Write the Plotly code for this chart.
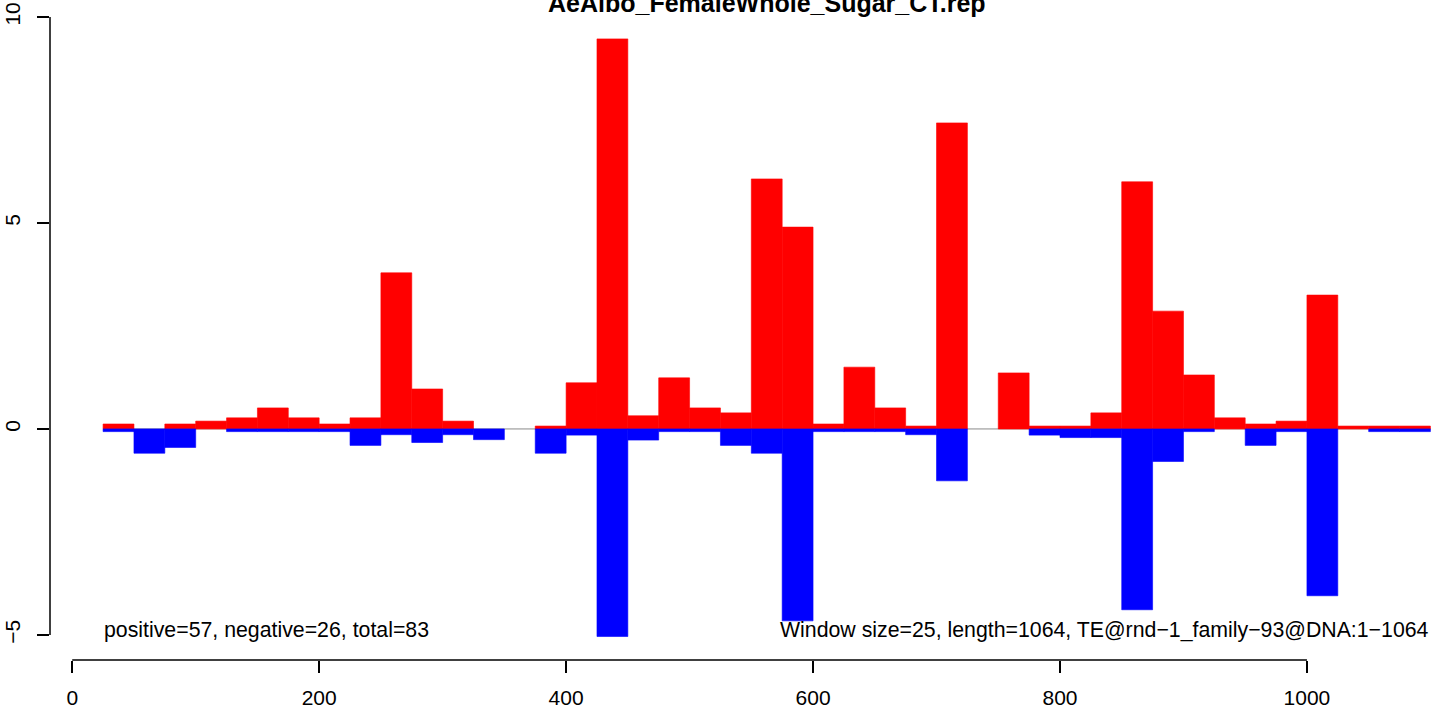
import plotly.graph_objects as go

# ---- data ----
window_start = [25, 50, 75, 100, 125, 150, 175, 200, 225, 250, 275, 300, 325, 350,
                375, 400, 425, 450, 475, 500, 525, 550, 575, 600, 625, 650, 675, 700,
                725, 750, 775, 800, 825, 850, 875, 900, 925, 950, 975, 1000, 1025, 1050, 1075]
window_size = 25
positive_vals = [0.12, 0, 0.12, 0.19, 0.27, 0.51, 0.27, 0.12, 0.27, 3.79, 0.97, 0.19, 0, 0,
                 0.07, 1.12, 9.47, 0.32, 1.24, 0.51, 0.39, 6.07, 4.90, 0.12, 1.50, 0.51, 0.07, 7.43,
                 0, 1.36, 0.07, 0.07, 0.39, 6.00, 2.86, 1.31, 0.27, 0.12, 0.19, 3.25, 0.07, 0.07, 0.07]
negative_vals = [-0.065, -0.59, -0.45, 0, -0.065, -0.065, -0.065, -0.065, -0.40, -0.14, -0.33, -0.14, -0.26, 0,
                 -0.59, -0.15, -5.04, -0.27, -0.065, -0.065, -0.40, -0.59, -4.66, -0.065, -0.065, -0.065, -0.14, -1.26,
                 0, 0, -0.15, -0.21, -0.21, -4.39, -0.79, -0.065, 0, -0.40, -0.065, -4.05, 0, -0.065, -0.065]
x_ticks = [0, 200, 400, 600, 800, 1000]
y_ticks = [-5, 0, 5, 10]
y_ticktext = ["\u22125", "0", "5", "10"]
title_text = "AeAlbo_FemaleWhole_Sugar_CT.rep"
left_note = "positive=57, negative=26, total=83"
right_note = "Window size=25, length=1064, TE@rnd\u22121_family\u221293@DNA:1\u22121064"

FONT = "Liberation Sans, Arial, Helvetica, sans-serif"

centers = [s + window_size / 2 for s in window_start]
pos_x = [c for c, v in zip(centers, positive_vals) if v != 0]
pos_y = [v for v in positive_vals if v != 0]
neg_x = [c for c, v in zip(centers, negative_vals) if v != 0]
neg_y = [v for v in negative_vals if v != 0]

fig = go.Figure()
fig.add_trace(go.Bar(x=pos_x, y=pos_y, width=[window_size] * len(pos_x), base=0,
                     marker=dict(color="#FF0000", line=dict(width=0.6, color="#FF0000")),
                     hoverinfo="x+y"))
fig.add_trace(go.Bar(x=neg_x, y=neg_y, width=[window_size] * len(neg_x), base=0,
                     marker=dict(color="#0000FF", line=dict(width=0.6, color="#0000FF")),
                     hoverinfo="x+y"))

# zero line
fig.add_shape(type="line", xref="x", yref="y", x0=window_start[0], x1=window_start[-1] + window_size,
              y0=0, y1=0, line=dict(color="#8a8a8a", width=1), layer="below")
# R-style axis lines spanning only the tick range
fig.add_shape(type="line", xref="paper", yref="y", x0=0, x1=0, y0=min(y_ticks), y1=max(y_ticks),
              line=dict(color="black", width=1.5))
fig.add_shape(type="line", xref="x", yref="paper", x0=min(x_ticks), x1=max(x_ticks), y0=0, y1=0,
              line=dict(color="black", width=1.5))

fig.add_annotation(text=title_text, xref="paper", yref="paper", x=0.5184, y=1.0186,
                   xanchor="center", yanchor="middle", showarrow=False,
                   font=dict(family=FONT, size=25, color="black", weight="bold"))
fig.add_annotation(text=left_note, xref="x", yref="y", x=window_start[0], y=-4.88,
                   xanchor="left", yanchor="middle", showarrow=False,
                   font=dict(family=FONT, size=21.3, color="black"), borderpad=0)
fig.add_annotation(text=right_note, xref="x", yref="y", x=window_start[-1] + window_size, y=-4.88,
                   xanchor="right", yanchor="middle", showarrow=False,
                   font=dict(family=FONT, size=21.3, color="black"), borderpad=0)

fig.update_layout(
    width=1433, height=708, autosize=False,
    margin=dict(l=50, r=0, t=15, b=48, autoexpand=False),
    paper_bgcolor="white", plot_bgcolor="white",
    barmode="overlay", showlegend=False,
    font=dict(family=FONT, size=21, color="black"),
    xaxis=dict(range=[-18, 1102.1], tickvals=x_ticks, ticktext=[str(t) for t in x_ticks],
               ticks="outside", ticklen=12, tickwidth=1.5, tickcolor="black",
               ticklabelstandoff=7,
               showgrid=False, zeroline=False, showline=False, automargin=False,
               tickfont=dict(family=FONT, size=21, color="black")),
    yaxis=dict(range=[-5.61, 10.05], tickvals=y_ticks, ticktext=y_ticktext,
               ticks="outside", ticklen=12, tickwidth=1.5, tickcolor="black",
               ticklabelstandoff=9,
               tickangle=-90, showgrid=False, zeroline=False, showline=False, automargin=False,
               tickfont=dict(family=FONT, size=21, color="black")),
)

fig.write_html("out.html", config={"displayModeBar": False},
               post_script="document.body.style.margin='0';")
